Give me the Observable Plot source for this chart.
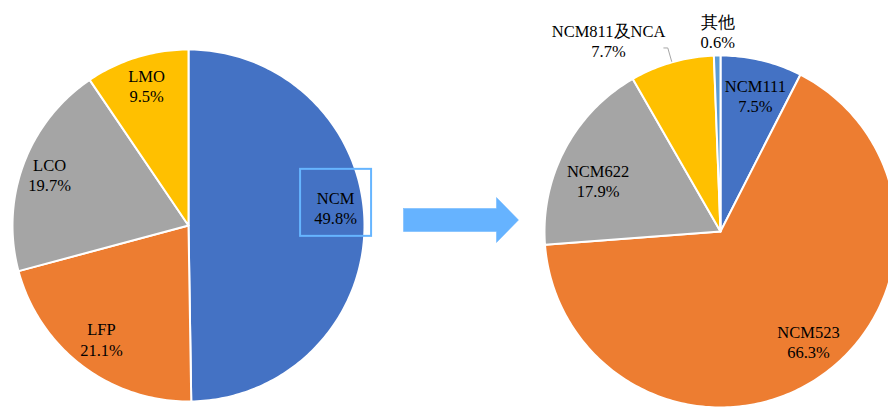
<!DOCTYPE html>
<html>
<head>
<meta charset="utf-8">
<script src="https://cdn.jsdelivr.net/npm/d3@7"></script>
<script src="https://cdn.jsdelivr.net/npm/@observablehq/plot@0.6"></script>
<style>
  html, body { margin: 0; padding: 0; background: #fff; overflow: hidden; }
  #chart svg { display: block; overflow: hidden; }
  #chart svg text { font-family: "Liberation Serif", "Times New Roman", serif !important; }
</style>
</head>
<body>
<div id="chart"></div>
<script>
// 正极材料构成
const cathodeTypes = ["NCM", "LFP", "LCO", "LMO"];
const cathodeShares = [49.8, 21.1, 19.7, 9.5];
const cathodeColors = ["#4472C4", "#ED7D31", "#A5A5A5", "#FFC000"];

// 三元材料（NCM）细分构成
const ncmTypes = ["NCM111", "NCM523", "NCM622", "NCM811及NCA", "其他"];
const ncmShares = [7.5, 66.3, 17.9, 7.7, 0.6];
const ncmColors = ["#4472C4", "#ED7D31", "#A5A5A5", "#FFC000", "#5B9BD5"];

// ---- layout ----
const W = 888, H = 408;
const pies = [
  {key: "cathode", cx: 188, cy: 225, r: 176, names: cathodeTypes, values: cathodeShares, colors: cathodeColors},
  {key: "ncm", cx: 720, cy: 231, r: 176, names: ncmTypes, values: ncmShares, colors: ncmColors}
];
// radial position of each data label (fraction of radius) plus a small nudge
const labelPlacement = {
  "NCM": {k: 0.83, dx: 1, dy: -17, highlight: true},
  "LFP": {k: 0.83, dx: 1, dy: -3},
  "LCO": {k: 0.83, dx: -2, dy: 0},
  "LMO": {k: 0.83, dx: 1, dy: 0},
  "NCM111": {k: 0.8, dx: 2, dy: 1},
  "NCM523": {k: 0.8, dx: 10, dy: -7},
  "NCM622": {k: 0.8, dx: 2, dy: 15},
  "NCM811及NCA": {k: 1.09, dx: -59, dy: -7, leader: true},
  "其他": {k: 1.13, dx: 1, dy: -1}
};
const arrowLayout = {x0: 403, x1: 518, y: 219.5, body: 11.5, head: 22.5, headLen: 22};

// ---- geometry built from the shares ----
const polar = (p, a, rad) => [p.cx + rad * Math.sin(a), p.cy - rad * Math.cos(a)];

const slices = [];
const labels = [];
const leaders = [];
const boxes = [];

for (const p of pies) {
  const arcs = d3.pie().sort(null)(p.values);
  arcs.forEach((a, i) => {
    const id = `${p.key}-${i}`;
    const fill = p.colors[i];
    const steps = Math.max(2, Math.ceil((a.endAngle - a.startAngle) / (Math.PI / 180)));
    slices.push({id, x: p.cx, y: p.cy, fill});
    for (let j = 0; j <= steps; j++) {
      const t = a.startAngle + (a.endAngle - a.startAngle) * j / steps;
      const [x, y] = polar(p, t, p.r);
      slices.push({id, x, y, fill});
    }
    slices.push({id, x: p.cx, y: p.cy, fill});

    const name = p.names[i];
    const place = labelPlacement[name];
    const mid = (a.startAngle + a.endAngle) / 2;
    const [lx, ly] = polar(p, mid, place.k * p.r);
    const label = {x: lx + place.dx, y: ly + place.dy, text: `${name}\n${p.values[i].toFixed(1)}%`};
    labels.push(label);

    if (place.highlight) {
      boxes.push({x1: label.x - 35, x2: label.x + 36, y1: label.y - 38, y2: label.y + 29});
    }
    if (place.leader) {
      const [ex, ey] = polar(p, mid, p.r + 1);
      const [bx, by] = polar(p, mid, p.r * 1.085);
      leaders.push({id, x: ex, y: ey}, {id, x: bx, y: by}, {id, x: bx - 4, y: by});
    }
  });
}

// block arrow between the two pies
const A = arrowLayout;
const arrow = [
  [A.x0, A.y - A.body], [A.x1 - A.headLen, A.y - A.body], [A.x1 - A.headLen, A.y - A.head],
  [A.x1, A.y], [A.x1 - A.headLen, A.y + A.head], [A.x1 - A.headLen, A.y + A.body],
  [A.x0, A.y + A.body], [A.x0, A.y - A.body]
].map(([x, y]) => ({x, y}));

const chart = Plot.plot({
  width: W,
  height: H,
  margin: 0,
  x: {domain: [0, W], range: [0, W], axis: null},
  y: {domain: [0, H], range: [0, H], axis: null},
  color: {type: "identity"},
  style: {background: "#fff", overflow: "hidden"},
  marks: [
    Plot.line(slices, {x: "x", y: "y", z: "id", fill: "fill", stroke: "#fff", strokeWidth: 2, strokeLinejoin: "round"}),
    Plot.line(arrow, {x: "x", y: "y", fill: "#66B3FF", stroke: "#66B3FF", strokeWidth: 0.5}),
    Plot.line(leaders, {x: "x", y: "y", z: "id", stroke: "#A6A6A6", strokeWidth: 1}),
    Plot.rect(boxes, {x1: "x1", x2: "x2", y1: "y1", y2: "y2", fill: "none", stroke: "#66B5FF", strokeWidth: 2}),
    Plot.text(labels, {x: "x", y: "y", text: "text", fontSize: 16.5, lineHeight: 1.22, fill: "#000"})
  ]
});

document.getElementById("chart").append(chart);
</script>
</body>
</html>
